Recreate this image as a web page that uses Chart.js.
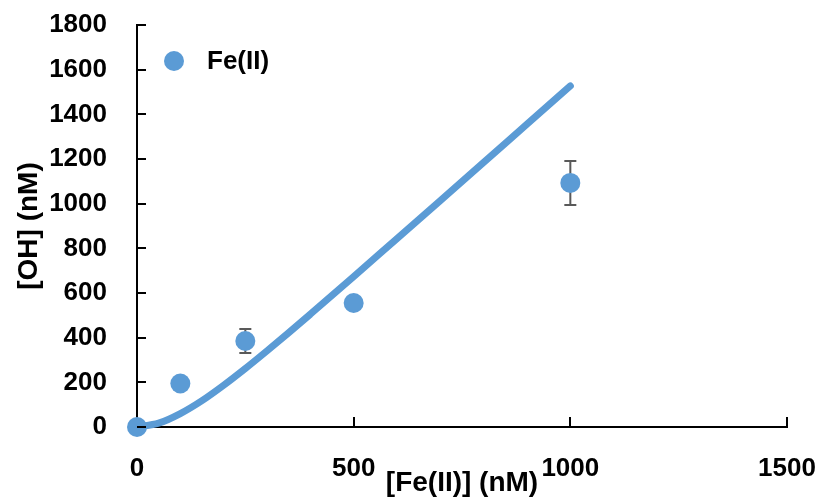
<!DOCTYPE html>
<html>
<head>
<meta charset="utf-8">
<script src="https://cdn.jsdelivr.net/npm/chart.js@4.4.1/dist/chart.umd.min.js"></script>
<style>
  body { margin: 0; background: #fff; }
</style>
</head>
<body>
<canvas id="myChart" width="819" height="500"></canvas>
<script>
// measured points
const feConc = [0, 100, 250, 500, 1000];
const ohConc = [0, 195, 385, 555, 1093];
const errLow = [0, 0, 331, 0, 994];
const errHigh = [0, 0, 439, 0, 1191];

// model curve
const modelX = [0, 50, 100, 150, 200, 250, 300, 350, 400, 450, 500, 600, 700, 800, 900, 1000];
const modelY = [0, 17, 60, 118, 187, 262, 341, 422, 505, 589, 673, 844, 1014, 1185, 1356, 1527];

const xTicks = [0, 500, 1000, 1500];
const yTicks = [0, 200, 400, 600, 800, 1000, 1200, 1400, 1600, 1800];

const blue = '#5B9BD5';
const fontFamily = '"Liberation Sans", Arial, sans-serif';

// error bars behind the dots
const errorBars = {
    id: 'errorBars',
    beforeDatasetsDraw(chart) {
        const ctx = chart.ctx;
        const xs = chart.scales.x, ys = chart.scales.y;
        ctx.save();
        ctx.strokeStyle = '#595959';
        ctx.lineWidth = 2;
        feConc.forEach((fx, i) => {
            if (errHigh[i] <= errLow[i]) return;
            const px = xs.getPixelForValue(fx);
            const top = ys.getPixelForValue(errHigh[i]);
            const bot = ys.getPixelForValue(errLow[i]);
            ctx.beginPath();
            ctx.moveTo(px, top); ctx.lineTo(px, bot);
            ctx.moveTo(px - 6, top); ctx.lineTo(px + 6, top);
            ctx.moveTo(px - 6, bot); ctx.lineTo(px + 6, bot);
            ctx.stroke();
        });
        ctx.restore();
    }
};

// tick marks pointing into the plot, plus the legend entry
const insideTicks = {
    id: 'insideTicks',
    afterDraw(chart) {
        const ctx = chart.ctx;
        const xs = chart.scales.x, ys = chart.scales.y;
        const area = chart.chartArea;
        ctx.save();
        ctx.strokeStyle = '#000';
        ctx.lineWidth = 2;
        ctx.beginPath();
        yTicks.forEach(v => {
            const py = Math.round(ys.getPixelForValue(v));
            ctx.moveTo(area.left, py); ctx.lineTo(area.left + 9, py);
        });
        xTicks.forEach(v => {
            if (v === 0) return;
            const px = Math.round(xs.getPixelForValue(v));
            ctx.moveTo(px, area.bottom); ctx.lineTo(px, area.bottom - 10);
        });
        ctx.stroke();

        const ds = chart.data.datasets[0];
        ctx.fillStyle = ds.backgroundColor;
        ctx.beginPath();
        ctx.arc(area.left + 37, area.top + 36, 10, 0, Math.PI * 2);
        ctx.fill();
        ctx.fillStyle = '#000';
        ctx.font = 'bold 26px ' + fontFamily;
        ctx.textBaseline = 'middle';
        ctx.fillText(ds.label, area.left + 70, area.top + 37);
        ctx.restore();
    }
};

const plainNumber = v => String(v);

const chart = new Chart(document.getElementById('myChart').getContext('2d'), {
    type: 'scatter',
    data: {
        datasets: [
            {
                label: 'Fe(II)',
                data: feConc.map((x, i) => ({ x: x, y: ohConc[i] })),
                backgroundColor: blue,
                borderColor: blue,
                pointRadius: 10,
                pointBorderWidth: 0,
                clip: false,
                order: 1
            },
            {
                label: 'model',
                type: 'line',
                data: modelX.map((x, i) => ({ x: x, y: modelY[i] })),
                borderColor: blue,
                borderWidth: 7,
                borderCapStyle: 'round',
                borderJoinStyle: 'round',
                pointRadius: 0,
                cubicInterpolationMode: 'monotone',
                fill: false,
                clip: false,
                order: 2
            }
        ]
    },
    options: {
        responsive: false,
        animation: false,
        layout: { padding: { top: 25, right: 32, left: 0, bottom: 0 } },
        plugins: {
            legend: { display: false },
            tooltip: { enabled: false }
        },
        scales: {
            x: {
                type: 'linear',
                min: 0,
                max: 1500,
                afterFit(scale) {
                    scale.height = 73;
                    scale.paddingLeft = 0;
                    scale.paddingRight = 0;
                },
                ticks: {
                    stepSize: 500,
                    padding: 26,
                    maxRotation: 0,
                    color: '#000',
                    callback: plainNumber,
                    font: { family: fontFamily, size: 26, weight: 'bold' }
                },
                grid: { display: false, drawTicks: false },
                border: { display: true, color: '#000', width: 2 },
                title: {
                    display: true,
                    text: '[Fe(II)] (nM)',
                    color: '#000',
                    padding: { top: 0, bottom: 0 },
                    font: { family: fontFamily, size: 28, weight: 'bold' }
                }
            },
            y: {
                min: 0,
                max: 1800,
                afterFit(scale) {
                    scale.width = 137;
                    scale.paddingTop = 0;
                    scale.paddingBottom = 0;
                },
                ticks: {
                    stepSize: 200,
                    padding: 30,
                    color: '#000',
                    callback: plainNumber,
                    font: { family: fontFamily, size: 26, weight: 'bold' }
                },
                grid: { display: false, drawTicks: false },
                border: { display: true, color: '#000', width: 2 },
                title: {
                    display: true,
                    text: '[OH] (nM)',
                    color: '#000',
                    padding: { top: 12, bottom: 0 },
                    font: { family: fontFamily, size: 28, weight: 'bold' }
                }
            }
        }
    },
    plugins: [errorBars, insideTicks]
});
</script>
</body>
</html>
